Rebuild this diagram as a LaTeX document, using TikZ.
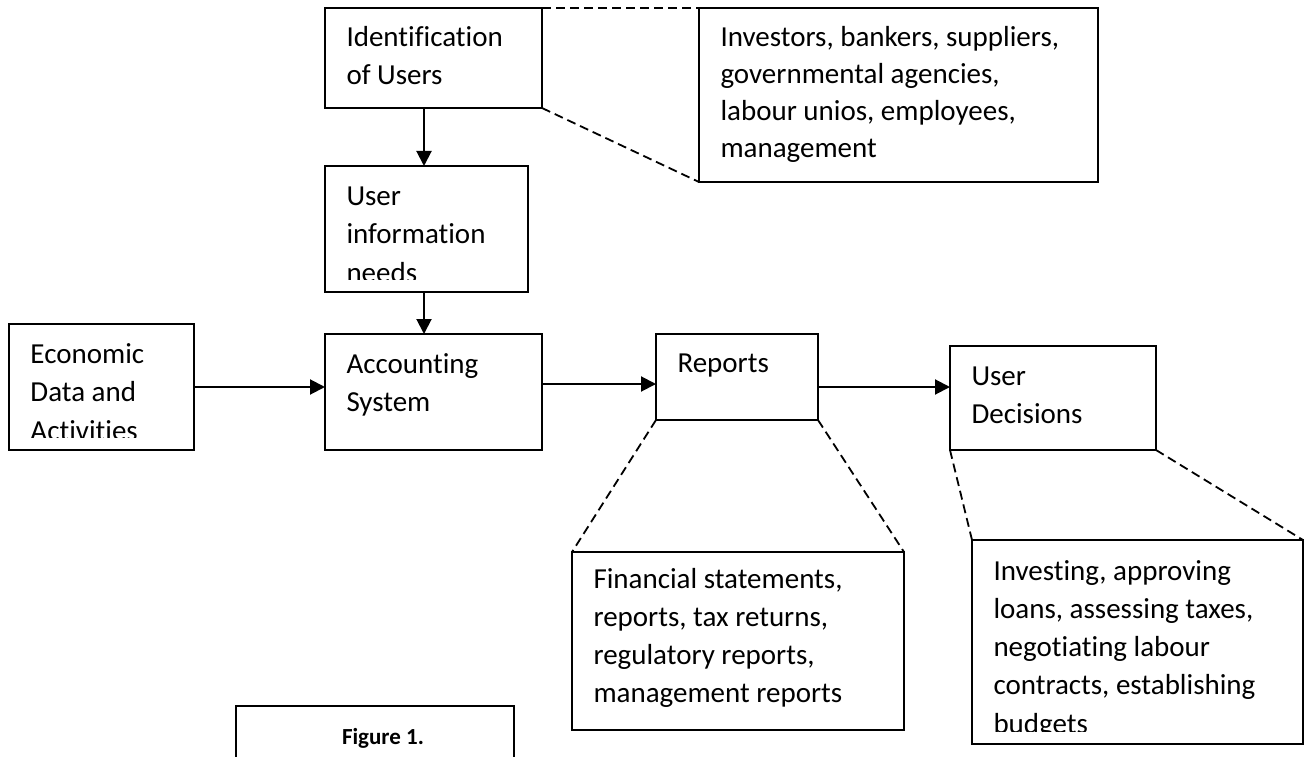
\documentclass[tikz,border=0pt]{standalone}
\usepackage{fontspec}
\setmainfont{Carlito}[Ligatures=NoCommon]
\usetikzlibrary{arrows.meta,calc}

% framed text box: name, left, top, width, height
\newcommand\diagbox[5]{%
  \node[box, minimum width=#4pt, minimum height=#5pt, anchor=north west] (#1) at (#2,#3) {};}
% left-aligned lines inside a box, clipped above its bottom margin
\newcommand\boxlines[4]{%
  \begin{scope}
    \clip (#1.north west) rectangle ($(#1.south east)+(0,-13)$);
    \node[txt, anchor=base west] (#1-text) at ($(#1.north west)+(21.5,#2)$)
      {\fontsize{29}{#3}\selectfont\begin{tabular}[t]{@{}l@{}}#4\end{tabular}};
  \end{scope}}

\begin{document}
\begin{tikzpicture}[x=1pt,y=-1pt,
  box/.style={draw=black, line width=2pt, inner sep=0pt, outer sep=0pt, fill=white},
  txt/.style={inner sep=0pt, outer sep=0pt, text=black},
  flow/.style={line width=2pt, -{Triangle[length=15pt,width=15pt]}},
  zoomline/.style={line width=1.8pt, dash pattern=on 9pt off 5pt}]

\clip (0,0) rectangle (1304,757);
\fill[white] (0,0) rectangle (1304,757);

% boxes of the main flow
\diagbox{ident}{325}{8}{217}{100}
\diagbox{uinfo}{325}{166}{203}{126}
\diagbox{econ}{9}{324}{185}{126}
\diagbox{acct}{325}{334}{217}{116}
\diagbox{rep}{656}{334}{162}{86}
\diagbox{dec}{950}{346}{206}{104}

% detail boxes
\diagbox{users}{699}{8}{399}{174}
\diagbox{outputs}{572}{552}{332}{178}
\diagbox{uses}{972}{540}{331}{204}
\diagbox{fig}{236}{706}{278}{100}

% texts
\boxlines{ident}{39}{38}{Identification\\ of Users}
\boxlines{users}{39}{37}{Investors, bankers, suppliers,\\ governmental agencies,\\ labour unios, employees,\\ management}
\boxlines{uinfo}{39}{38.5}{User\\ information\\ needs}
\boxlines{econ}{39}{38.5}{Economic\\ Data and\\ Activities}
\boxlines{acct}{39}{38}{Accounting\\ System}
\boxlines{rep}{38}{38}{Reports}
\boxlines{dec}{39}{38}{User\\ Decisions}
\boxlines{outputs}{36}{38.3}{Financial statements,\\ reports, tax returns,\\ regulatory reports,\\ management reports}
\boxlines{uses}{40}{38.3}{Investing, approving\\ loans, assessing taxes,\\ negotiating labour\\ contracts, establishing\\ budgets}
\node[txt, anchor=base, font=\fontsize{23}{28}\selectfont\bfseries] (fig-text) at (383,744) {Figure 1.};

% flow arrows
\coordinate (vx) at (424,0);
\coordinate (h1) at (0,387);
\coordinate (h2) at (0,384);
\draw[flow] (ident.south -| vx) -- (uinfo.north -| vx);
\draw[flow] (uinfo.south -| vx) -- (acct.north -| vx);
\draw[flow] (econ.east |- h1) -- (acct.west |- h1);
\draw[flow] (acct.east |- h2) -- (rep.west |- h2);
\draw[flow] (rep.east |- h1) -- (dec.west |- h1);

% dashed lines opening to the detail boxes
\draw[zoomline] (ident.north east) -- (users.north west);
\draw[zoomline] (ident.south east) -- (users.south west);
\draw[zoomline] (rep.south west) -- (outputs.north west);
\draw[zoomline] (rep.south east) -- (outputs.north east);
\draw[zoomline] (dec.south west) -- (uses.north west);
\draw[zoomline] (dec.south east) -- (uses.north east);
\end{tikzpicture}
\end{document}
